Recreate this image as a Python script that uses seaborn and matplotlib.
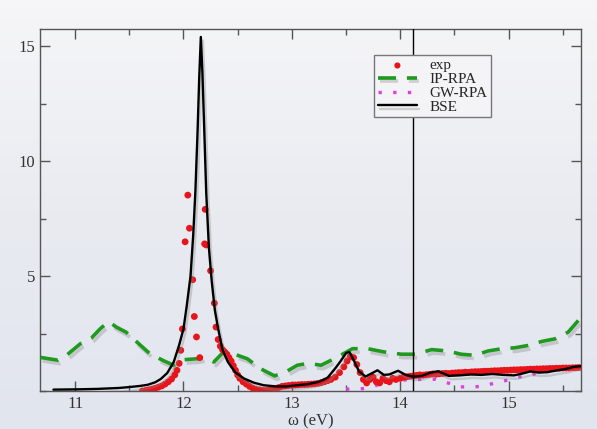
import numpy as np
import matplotlib
matplotlib.use("Agg")
import matplotlib.pyplot as plt
import matplotlib.patheffects as pe
from matplotlib.ticker import MultipleLocator
import seaborn as sns

# spectra (omega in eV)
bse_x = [10.8, 11.0, 11.2, 11.4, 11.5, 11.6, 11.67, 11.74, 11.79, 11.85, 11.91,
         11.96, 12.0, 12.03, 12.065, 12.09, 12.11, 12.13, 12.145, 12.16, 12.175,
         12.19, 12.21, 12.235, 12.26, 12.29, 12.32, 12.36, 12.41, 12.48, 12.56,
         12.65, 12.74, 12.85, 12.95, 13.05, 13.15, 13.25, 13.33, 13.4, 13.45,
         13.5, 13.53, 13.57, 13.62, 13.68, 13.73, 13.79, 13.85, 13.9, 13.98,
         14.05, 14.12, 14.2, 14.28, 14.35, 14.45, 14.55, 14.65, 14.75, 14.85,
         14.95, 15.05, 15.12, 15.2, 15.28, 15.36, 15.45, 15.52, 15.6, 15.67]
bse_y = [0.06, 0.07, 0.09, 0.13, 0.17, 0.22, 0.27, 0.38, 0.52, 0.78, 1.26,
         2.0, 2.7, 3.7, 5.0, 6.8, 8.7, 11.3, 13.6, 15.4, 13.8,
         11.6, 8.6, 6.2, 4.8, 3.5, 2.7, 1.8, 1.26, 0.8, 0.54,
         0.36, 0.25, 0.2, 0.2, 0.25, 0.3, 0.4, 0.58, 0.98, 1.3,
         1.65, 1.7, 1.35, 0.85, 0.63, 0.75, 0.9, 0.7, 0.72, 0.88,
         0.7, 0.62, 0.66, 0.8, 0.86, 0.66, 0.68, 0.72, 0.7, 0.74,
         0.7, 0.68, 0.75, 0.85, 0.8, 0.82, 0.9, 0.95, 1.05, 1.08]

exp_x = [11.62, 11.65, 11.68, 11.71, 11.74, 11.77, 11.80, 11.83, 11.86, 11.89,
         11.92, 11.94, 11.96, 11.975, 11.99, 12.015, 12.04, 12.055, 12.085, 12.10,
         12.12, 12.15, 12.20, 12.195, 12.21, 12.25, 12.285, 12.30, 12.32, 12.34,
         12.36, 12.38, 12.40, 12.42, 12.44, 12.46, 12.48, 12.50, 12.52, 12.55,
         12.58, 12.61, 12.64, 12.67, 12.70, 12.73, 12.76, 12.79, 12.82, 12.85,
         12.88, 12.91, 12.94, 12.97, 13.00, 13.03, 13.06, 13.09, 13.12, 13.15,
         13.18, 13.21, 13.24, 13.27, 13.30, 13.33, 13.36, 13.40, 13.44, 13.48,
         13.51, 13.54, 13.57, 13.60, 13.63, 13.66, 13.69, 13.72, 13.75, 13.78,
         13.81, 13.84, 13.87, 13.90, 13.93, 13.96, 14.00, 14.03, 14.06, 14.09,
         14.12, 14.15, 14.18, 14.21, 14.24, 14.27, 14.30, 14.33, 14.36, 14.39,
         14.42, 14.45, 14.48, 14.51, 14.54, 14.57, 14.60, 14.63, 14.66, 14.69,
         14.72, 14.75, 14.78, 14.81, 14.84, 14.87, 14.90, 14.93, 14.96, 14.99,
         15.02, 15.05, 15.08, 15.11, 15.14, 15.17, 15.20, 15.23, 15.26, 15.29,
         15.32, 15.35, 15.38, 15.41, 15.44, 15.47, 15.50, 15.53, 15.56, 15.59,
         15.62, 15.65]
exp_y = [0.0, 0.02, 0.05, 0.08, 0.12, 0.17, 0.22, 0.3, 0.4, 0.52,
         0.7, 0.9, 1.2, 1.77, 2.7, 6.49, 8.52, 7.08, 4.84, 3.24,
         2.35, 1.45, 7.9, 6.4, 6.35, 5.23, 3.82, 2.78, 2.24, 1.95,
         1.8, 1.7, 1.6, 1.45, 1.3, 1.1, 0.9, 0.7, 0.55, 0.4,
         0.3, 0.2, 0.12, 0.07, 0.05, 0.03, 0.02, 0.03, 0.06, 0.1,
         0.15, 0.2, 0.22, 0.24, 0.25, 0.26, 0.27, 0.28, 0.28, 0.29,
         0.3, 0.31, 0.33, 0.36, 0.4, 0.45, 0.5, 0.6, 0.8, 1.05,
         1.3, 1.5, 1.45, 1.15, 0.8, 0.5, 0.35, 0.5, 0.6, 0.4,
         0.35, 0.55, 0.45, 0.4, 0.55, 0.5, 0.55, 0.6, 0.62, 0.64,
         0.66, 0.68, 0.7, 0.69, 0.71, 0.72, 0.74, 0.73, 0.75, 0.76,
         0.77, 0.76, 0.78, 0.79, 0.8, 0.8, 0.82, 0.81, 0.83, 0.84,
         0.84, 0.85, 0.86, 0.86, 0.87, 0.88, 0.88, 0.89, 0.9, 0.9,
         0.91, 0.92, 0.92, 0.93, 0.93, 0.94, 0.95, 0.95, 0.96, 0.96,
         0.97, 0.97, 0.98, 0.98, 0.99, 0.99, 1.0, 1.0, 1.0, 1.01,
         1.01, 1.02]

ip_x = [10.68, 10.84, 10.92, 11.05, 11.15, 11.23, 11.31, 11.38, 11.47, 11.57,
        11.69, 11.81, 11.91, 12.0, 12.12, 12.19, 12.28, 12.37, 12.46, 12.59,
        12.71, 12.84, 12.93, 13.05, 13.15, 13.27, 13.39, 13.56, 13.70, 13.85,
        14.01, 14.14, 14.29, 14.44, 14.56, 14.69, 14.81, 14.94, 15.06, 15.18,
        15.31, 15.43, 15.55, 15.67]
ip_y = [1.46, 1.34, 1.55, 2.06, 2.3, 2.7, 3.02, 2.78, 2.56, 2.13,
        1.62, 1.33, 1.12, 1.36, 1.4, 1.45, 1.26, 1.7, 1.62, 1.4,
        0.97, 0.66, 0.79, 1.12, 1.2, 1.12, 1.4, 1.84, 1.84, 1.7,
        1.6, 1.6, 1.8, 1.74, 1.6, 1.55, 1.74, 1.84, 1.88, 1.98,
        2.16, 2.27, 2.56, 3.21]

gw_x = [13.5, 13.65, 13.76, 13.85, 13.96, 14.1, 14.33, 14.44, 14.55, 14.66,
        14.77, 14.87, 14.99, 15.1, 15.21, 15.3, 15.43, 15.55, 15.67]
gw_y = [0.08, 0.1, 0.2, 0.4, 0.45, 0.5, 0.51, 0.35, 0.18, 0.18,
        0.2, 0.35, 0.47, 0.61, 0.66, 0.92, 0.95, 1.0, 1.1]

sns.set_theme(style="ticks")
plt.rcParams["font.family"] = ["Liberation Serif", "DejaVu Serif"]

fig = plt.figure(figsize=(5.97, 4.29), dpi=100)
bg = fig.add_axes([0, 0, 1, 1], zorder=-10)
bg.imshow(np.linspace(0, 1, 64).reshape(-1, 1), aspect="auto",
          cmap=matplotlib.colors.LinearSegmentedColormap.from_list(
              "bg", ["#f6f6f8", "#e9ebf1", "#e1e5ee"]), extent=[0, 1, 0, 1])
bg.axis("off")

ax = fig.add_axes([0.067, 0.0886, 0.906, 0.844])
ax.set_facecolor("none")

shadow = [pe.SimpleLineShadow(offset=(1.5, -2.5), shadow_color="#888888", alpha=0.35), pe.Normal()]

sns.lineplot(x=ip_x, y=ip_y, ax=ax, color="#1f9a1f", lw=2.6, sort=False,
             linestyle=(0, (5, 3)), label="IP-RPA",
             path_effects=shadow, zorder=3)
sns.lineplot(x=gw_x, y=gw_y, ax=ax, color="#e040e0", lw=2.4, sort=False,
             linestyle=(0, (1, 3.4)), label="GW-RPA", zorder=2)
sns.scatterplot(x=exp_x, y=exp_y, ax=ax, color="#e8141a", s=24, edgecolor="none",
                label="exp", zorder=4)
sns.lineplot(x=bse_x, y=bse_y, ax=ax, color="black", lw=1.7, sort=False,
             label="BSE", path_effects=shadow, zorder=5)
ax.axvline(14.12, color="black", lw=1.0, zorder=6)

ax.set_xlim(10.676, 15.667)
ax.set_ylim(0, 15.75)
ax.xaxis.set_major_locator(MultipleLocator(1))
ax.xaxis.set_minor_locator(MultipleLocator(0.5))
ax.yaxis.set_major_locator(MultipleLocator(5))
ax.yaxis.set_minor_locator(MultipleLocator(2.5))
ax.set_yticks([5, 10, 15])
ax.tick_params(which="both", direction="in", top=True, right=True,
               colors="#555555", labelcolor="#333333", labelsize=12)
ax.tick_params(which="major", length=7, width=1)
ax.tick_params(which="minor", length=4, width=1)
for sp in ax.spines.values():
    sp.set_color("#555555")
    sp.set_linewidth(1.0)

ax.set_xlabel("ω (eV)", fontsize=12, color="#333333", labelpad=1)
ax.set_ylabel("")

handles, labels = ax.get_legend_handles_labels()
order = [labels.index(n) for n in ["exp", "IP-RPA", "GW-RPA", "BSE"]]
leg = ax.legend([handles[i] for i in order], [labels[i] for i in order],
                loc="upper left", bbox_to_anchor=(0.617, 0.928), borderaxespad=0,
                fontsize=11, frameon=True, fancybox=False, edgecolor="#777777",
                facecolor="#f4f4f6", framealpha=1, handlelength=2.6,
                labelspacing=0.0, borderpad=0.25, handletextpad=0.8,
                markerscale=0.9)
leg.set_zorder(10)
leg.get_frame().set_linewidth(1.0)

fig.savefig("out.png", dpi=100)
